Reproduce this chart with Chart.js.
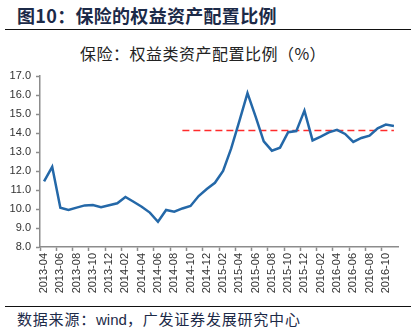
<!DOCTYPE html>
<html>
<head>
<meta charset="utf-8">
<script src="https://cdn.jsdelivr.net/npm/chart.js@4.4.0/dist/chart.umd.min.js"></script>
<style>
  html, body { margin: 0; padding: 0; background: #fff; }
  body { width: 411px; height: 334px; position: relative; overflow: hidden; }
  .title { position: absolute; left: 17px; top: 3px; font: bold 18px "Noto Sans CJK SC", sans-serif; color: #1c2a48; line-height: 24px; letter-spacing: 0.3px; }
  .rule { position: absolute; left: 5px; right: 0; height: 1.5px; background: #111; }
  .subtitle { position: absolute; left: 0; width: 406px; top: 42px; text-align: center; font: 16px "Noto Sans CJK SC", sans-serif; color: #222; line-height: 22px; letter-spacing: 0.5px; }
  .source { position: absolute; left: 17px; top: 308px; font: 15px "Noto Sans CJK SC", sans-serif; color: #1c2a48; line-height: 22px; letter-spacing: 0.8px; }
  .source span { font-family: "Liberation Sans", Arial, sans-serif; letter-spacing: 0; }
  #wrap { position: absolute; left: 0; top: 60px; width: 411px; height: 240px; }
</style>
</head>
<body>
<div class="title">图10：保险的权益资产配置比例</div>
<div class="rule" style="top:28.5px"></div>
<div class="subtitle">保险：权益类资产配置比例（%）</div>
<div id="wrap"><canvas id="myChart"></canvas></div>
<div class="rule" style="top:305.5px"></div>
<div class="source">数据来源：<span>wind</span>，广发证券发展研究中心</div>

<script>
// monthly, 2013-04 .. 2016-11
const months = [
  '2013-04','2013-05','2013-06','2013-07','2013-08','2013-09','2013-10','2013-11','2013-12',
  '2014-01','2014-02','2014-03','2014-04','2014-05','2014-06','2014-07','2014-08','2014-09',
  '2014-10','2014-11','2014-12','2015-01','2015-02','2015-03','2015-04','2015-05','2015-06',
  '2015-07','2015-08','2015-09','2015-10','2015-11','2015-12','2016-01','2016-02','2016-03',
  '2016-04','2016-05','2016-06','2016-07','2016-08','2016-09','2016-10','2016-11'
];
const equityRatio = [
  11.45, 12.22, 10.07, 9.95, 10.07, 10.19, 10.21, 10.10, 10.20,
  10.30, 10.63, 10.38, 10.12, 9.81, 9.33, 9.95, 9.86, 10.03,
  10.16, 10.68, 11.05, 11.38, 12.00, 13.19, 14.63, 16.10, 14.86,
  13.56, 13.07, 13.23, 14.04, 14.10, 15.18, 13.61, 13.81, 14.03,
  14.17, 13.95, 13.53, 13.74, 13.86, 14.25, 14.44, 14.37
];
const refLevel = 14.13;
const refStart = '2014-09';
const yTicks = [8, 9, 10, 11, 12, 13, 14, 15, 16, 17];

const refLine = months.map(m => (m >= refStart ? refLevel : null));
const axisColor = '#8c8c8c';

new Chart(document.getElementById('myChart').getContext('2d'), {
  type: 'line',
  data: {
    labels: months,
    datasets: [
      {
        label: '权益类资产配置比例',
        data: equityRatio,
        borderColor: '#2468a8',
        borderWidth: 2.5,
        pointRadius: 0,
        tension: 0,
        fill: false
      },
      {
        label: 'ref',
        data: refLine,
        borderColor: 'rgba(255, 20, 20, 0.9)',
        borderWidth: 1.5,
        borderDash: [7, 4],
        pointRadius: 0,
        spanGaps: false,
        fill: false
      }
    ]
  },
  options: {
    responsive: true,
    maintainAspectRatio: false,
    animation: false,
    events: [],
    layout: { padding: { top: 16, right: 13, left: 0, bottom: 0 } },
    plugins: { legend: { display: false }, tooltip: { enabled: false }, title: { display: false } },
    scales: {
      x: {
        type: 'category',
        offset: true,
        afterFit: s => { s.height = 53; },
        border: { color: axisColor, width: 1.5 },
        grid: {
          offset: true,
          drawOnChartArea: false,
          drawTicks: true,
          tickLength: 4,
          tickColor: ctx => (ctx.index % 2 === 0 ? axisColor : 'rgba(0,0,0,0)'),
          tickWidth: 1.5
        },
        ticks: {
          autoSkip: false,
          maxRotation: 90,
          minRotation: 90,
          padding: 2,
          color: '#333',
          font: { family: '"Liberation Sans", Arial, sans-serif', size: 11 },
          callback: function (v, i) { return i % 2 === 0 ? this.getLabelForValue(v) : ''; }
        }
      },
      y: {
        min: yTicks[0],
        max: yTicks[yTicks.length - 1],
        afterFit: s => { s.width = 40; },
        afterBuildTicks: s => { s.ticks = yTicks.map(v => ({ value: v })); },
        border: { color: axisColor, width: 1.5 },
        grid: { drawOnChartArea: false, drawTicks: true, tickLength: 4, tickColor: axisColor, tickWidth: 1.5 },
        ticks: {
          padding: 5,
          color: '#333',
          font: { family: '"Liberation Sans", Arial, sans-serif', size: 11 },
          callback: v => Number(v).toFixed(1)
        }
      }
    }
  }
});
</script>
</body>
</html>
